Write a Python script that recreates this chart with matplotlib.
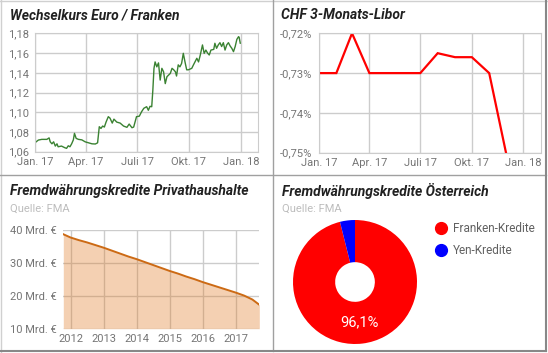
import matplotlib
matplotlib.use('Agg')
import matplotlib.pyplot as plt
import numpy as np
from matplotlib.lines import Line2D

plt.rcParams['font.family'] = ['Roboto', 'DejaVu Sans']

# Wechselkurs Euro / Franken (Tage seit 1.1.2017)
chf_days = [0, 6, 12, 21, 25, 27, 30, 33, 36, 39, 41, 47, 53, 56, 59, 62, 65, 68, 70, 73,
            77, 83, 89, 95, 101, 107, 111, 114, 117, 120, 123, 126, 130, 133, 137, 140,
            145, 151, 157, 163, 167, 172, 175, 180, 185, 189, 193, 198, 201, 204, 207,
            209, 211, 213, 216, 219, 222, 225, 228, 231, 234, 240, 243, 246, 249, 251,
            254, 257, 260, 263, 266, 269, 272, 278, 281, 287, 290, 293, 297, 300, 303,
            306, 309, 312, 317, 319, 322, 325, 328, 331, 334, 337, 340, 343, 346, 349,
            352, 355, 358, 361, 362, 364]
chf_rate = [1.0691, 1.0718, 1.0725, 1.0725, 1.0740, 1.0700, 1.0680, 1.0700, 1.0657, 1.0680,
            1.0650, 1.0657, 1.0640, 1.0634, 1.0660, 1.0650, 1.0680, 1.0720, 1.0786, 1.0735,
            1.0725, 1.0720, 1.0700, 1.0690, 1.0680, 1.0678, 1.0690, 1.0853, 1.0836, 1.0860,
            1.0850, 1.0900, 1.0955, 1.0940, 1.0890, 1.0930, 1.0900, 1.0890, 1.0860, 1.0847,
            1.0880, 1.0843, 1.0850, 1.0955, 1.0960, 1.1005, 1.1040, 1.1056, 1.1020, 1.1060,
            1.1056, 1.1225, 1.1445, 1.1510, 1.1460, 1.1500, 1.1326, 1.1445, 1.1410, 1.1290,
            1.1360, 1.1394, 1.1445, 1.1430, 1.1410, 1.1367, 1.1480, 1.1460, 1.1495, 1.1597,
            1.1510, 1.1430, 1.1430, 1.1445, 1.1480, 1.1547, 1.1510, 1.1577, 1.1682, 1.1597,
            1.1630, 1.1600, 1.1580, 1.1630, 1.1637, 1.1699, 1.1648, 1.1682, 1.1705, 1.1666,
            1.1705, 1.1630, 1.1682, 1.1705, 1.1672, 1.1648, 1.1614, 1.1666, 1.1739, 1.1766,
            1.1760, 1.1700]
chf_yticks = [1.06, 1.08, 1.10, 1.12, 1.14, 1.16, 1.18]
chf_ylabels = ['1,06', '1,08', '1,10', '1,12', '1,14', '1,16', '1,18']

# CHF 3-Monats-Libor (monatlich, in %)
libor_dates = ['2017-01-01', '2017-02-01', '2017-03-01', '2017-04-01', '2017-05-01',
               '2017-06-01', '2017-07-01', '2017-08-01', '2017-09-01', '2017-10-01',
               '2017-11-01', '2017-12-01']
libor = [-0.730, -0.730, -0.720, -0.730, -0.730, -0.730, -0.730, -0.725, -0.726, -0.726,
         -0.730, -0.750]
libor_yticks = [-0.75, -0.74, -0.73, -0.72]
libor_ylabels = ['-0,75%', '-0,74%', '-0,73%', '-0,72%']

quarter_dates = ['2017-01-01', '2017-04-01', '2017-07-01', '2017-10-01', '2018-01-01']
quarter_labels = ['Jan. 17', 'Apr. 17', 'Juli 17', 'Okt. 17', 'Jan. 18']

# Fremdwährungskredite Privathaushalte (Mrd. Euro)
fx_years = [2011.78, 2012.0, 2012.25, 2012.5, 2012.75, 2013.0, 2013.25, 2013.5, 2013.75,
            2014.0, 2014.25, 2014.5, 2014.75, 2015.0, 2015.25, 2015.5, 2015.75, 2016.0,
            2016.25, 2016.5, 2016.75, 2017.0, 2017.25, 2017.5, 2017.71]
fx_loans = [38.8, 37.8, 37.0, 36.3, 35.5, 34.7, 33.8, 32.9, 32.0, 31.2, 30.3, 29.4, 28.5,
            27.6, 26.8, 25.9, 25.1, 24.2, 23.4, 22.6, 21.8, 21.0, 20.1, 18.9, 17.3]
fx_xticks = [2012, 2013, 2014, 2015, 2016, 2017]
fx_yticks = [10, 20, 30, 40]
fx_ylabels = ['10 Mrd. €', '20 Mrd. €', '30 Mrd. €', '40 Mrd. €']

# Fremdwährungskredite Österreich
share_labels = ['Franken-Kredite', 'Yen-Kredite']
share_values = [96.1, 3.9]
share_colors = ['#ff0000', '#0000ff']

W, H = 548, 353
fig = plt.figure(figsize=(W / 100, H / 100), dpi=100)


def px_axes(l, t, r, b):
    return fig.add_axes([l / W, 1 - b / H, (r - l) / W, (b - t) / H])


def px_text(x, y, s, **kw):
    fig.text(x / W, 1 - y / H, s, va='center', ha='left', **kw)


grid_c = '#cccccc'
tick_c = '#757575'


def style(ax, pad_x, pad_y):
    ax.grid(True, color=grid_c, lw=1)
    ax.set_axisbelow(True)
    for s in ax.spines.values():
        s.set_color(grid_c)
    ax.tick_params(length=0, labelsize=8, labelcolor=tick_c)
    ax.tick_params(axis='x', pad=pad_x)
    ax.tick_params(axis='y', pad=pad_y)


title_kw = dict(fontsize=10, fontweight='bold', style='italic', color='#212121')
src_kw = dict(fontsize=8, color='#bdbdbd')

# Panel 1
ax1 = px_axes(35, 33.3, 258.3, 151.7)
d1 = np.datetime64('2017-01-01') + np.array(chf_days).astype('timedelta64[D]')
ax1.plot(d1, chf_rate, color='#3a8232', lw=1.0)
ax1.set_xlim(np.datetime64('2017-01-01'), np.datetime64('2018-02-01'))
ax1.set_ylim(1.06, 1.18)
ax1.set_xticks(np.array(quarter_dates, dtype='datetime64[D]'))
ax1.set_xticklabels(quarter_labels)
ax1.set_yticks(chf_yticks)
ax1.set_yticklabels(chf_ylabels)
style(ax1, 4, 4.5)
px_text(10, 15, 'Wechselkurs Euro / Franken', **title_kw)

# Panel 2
ax2 = px_axes(319, 33.3, 540.7, 152.7)
ax2.plot(np.array(libor_dates, dtype='datetime64[D]'), libor, color='#ff0000', lw=1.6,
         solid_joinstyle='miter')
ax2.set_xlim(np.datetime64('2017-01-01'), np.datetime64('2018-02-01'))
ax2.set_ylim(-0.75, -0.72)
ax2.set_xticks(np.array(quarter_dates, dtype='datetime64[D]'))
ax2.set_xticklabels(quarter_labels)
ax2.set_yticks(libor_yticks)
ax2.set_yticklabels(libor_ylabels)
style(ax2, 4, 5)
px_text(281, 15, 'CHF 3-Monats-Libor', **title_kw)

# Panel 3
ax3 = px_axes(63.3, 230.3, 259.3, 328.7)
ax3.fill_between(fx_years, fx_loans, 10, color='#e07b24', alpha=0.35, lw=0)
ax3.plot(fx_years, fx_loans, color='#cc6a14', lw=1.4)
ax3.set_xlim(fx_years[0], fx_years[-1])
ax3.set_ylim(10, 40)
ax3.set_xticks(fx_xticks)
ax3.set_yticks(fx_yticks)
ax3.set_yticklabels(fx_ylabels)
style(ax3, 4, 4.5)
for s in ax3.spines.values():
    s.set_visible(False)
px_text(10, 191, 'Fremdwährungskredite Privathaushalte', **title_kw)
px_text(10, 209, 'Quelle: FMA', **src_kw)

# Panel 4
ax4 = px_axes(293, 220, 417, 344)
ax4.pie(share_values, colors=share_colors, startangle=90, counterclock=False,
        wedgeprops=dict(width=0.68, linewidth=0),
        autopct=lambda p: f'{p:.1f}%'.replace('.', ',') if p > 50 else '',
        pctdistance=0.65, textprops=dict(color='white', fontsize=10.5))
ax4.set_xlim(-1, 1)
ax4.set_ylim(-1, 1)
ax4.set_aspect('equal')
handles = [Line2D([], [], ls='', marker='o', markersize=8.5, color=c) for c in share_colors]
leg = fig.legend(handles, share_labels, loc='upper left', frameon=False,
                 bbox_to_anchor=(428 / W, 1 - 216 / H), fontsize=8.5, labelcolor='#616161',
                 handletextpad=0.4, labelspacing=0.75, handlelength=1.2, borderpad=0)
px_text(282, 191, 'Fremdwährungskredite Österreich', **title_kw)
px_text(282, 209, 'Quelle: FMA', **src_kw)

# Rahmen
frame_c = '#a0a0a0'
fig.add_artist(Line2D([0.5 / W, 0.5 / W], [0, 1], color='#d0d0d0', lw=1))
fig.add_artist(Line2D([0, 1], [1 - 0.5 / H, 1 - 0.5 / H], color='#d0d0d0', lw=1))
fig.add_artist(Line2D([273 / W, 273 / W], [1 - 351 / H, 1], color=frame_c, lw=1))
fig.add_artist(Line2D([0, 546 / W], [1 - 174.5 / H, 1 - 174.5 / H], color=frame_c, lw=1))
fig.add_artist(Line2D([546 / W, 546 / W], [1 - 351 / H, 1], color='#888888', lw=1.5))
fig.add_artist(Line2D([0, 546 / W], [1 - 351 / H, 1 - 351 / H], color='#888888', lw=1.5))

fig.savefig('out.png', dpi=100)
